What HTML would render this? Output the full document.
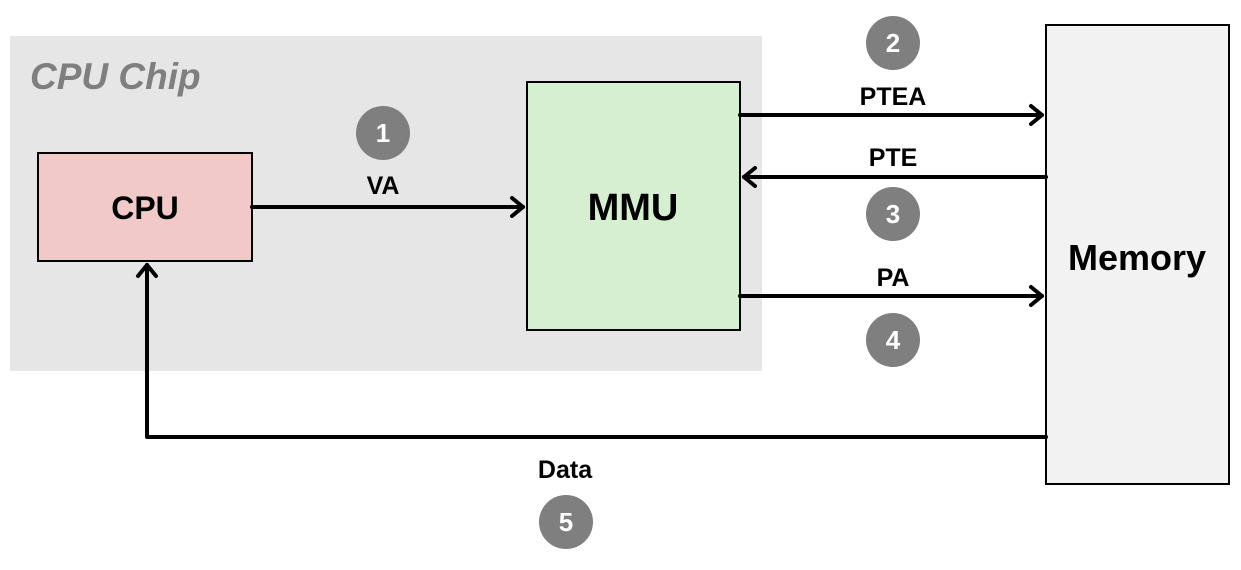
<!DOCTYPE html>
<html><head><style>body{margin:0;background:#fff}svg{display:block}</style></head>
<body>
<svg width="1241" height="570" viewBox="0 0 1241 570" xmlns="http://www.w3.org/2000/svg" font-family="Liberation Sans, sans-serif" font-weight="bold">
<rect x="10" y="36" width="752" height="335" fill="#e6e6e6"/>
<text x="30" y="89" font-size="37" font-style="italic" fill="#7f7f7f">CPU Chip</text>
<rect x="38" y="153" width="214" height="108" fill="#f2c9c9" stroke="#000" stroke-width="2"/>
<text x="145" y="219" font-size="32" text-anchor="middle">CPU</text>
<rect x="527" y="82" width="213" height="248" fill="#d5efd0" stroke="#000" stroke-width="2"/>
<text x="633" y="220" font-size="38" text-anchor="middle">MMU</text>
<rect x="1046" y="25" width="183" height="459" fill="#f2f2f2" stroke="#000" stroke-width="2"/>
<text x="1137" y="270" font-size="36" text-anchor="middle">Memory</text>
<g stroke="#000" stroke-width="4" fill="none" stroke-linecap="round" stroke-linejoin="round">
<line x1="252" y1="207" x2="523" y2="207"/><polyline points="512,198 523,207 512,216"/>
<line x1="740" y1="115" x2="1042" y2="115"/><polyline points="1031,106 1042,115 1031,124"/>
<line x1="1046" y1="177" x2="744" y2="177"/><polyline points="755,168 744,177 755,186"/>
<line x1="740" y1="296" x2="1042" y2="296"/><polyline points="1031,287 1042,296 1031,305"/>
<polyline points="1046,437 147,437 147,265"/><polyline points="138,276 147,265 156,276"/>
</g>
<g font-size="25" text-anchor="middle">
<text x="383" y="194">VA</text>
<text x="893" y="105">PTEA</text>
<text x="893" y="166">PTE</text>
<text x="893" y="286">PA</text>
<text x="565" y="478">Data</text>
</g>
<g fill="#7f7f7f">
<circle cx="383" cy="133" r="27"/><circle cx="893" cy="43" r="27"/><circle cx="893" cy="214" r="27"/><circle cx="893" cy="340" r="27"/><circle cx="566" cy="522" r="27"/>
</g>
<g fill="#fff" font-size="26" text-anchor="middle">
<text x="383" y="142">1</text><text x="893" y="52">2</text><text x="893" y="223">3</text><text x="893" y="349">4</text><text x="566" y="531">5</text>
</g>
</svg>
</body></html>
